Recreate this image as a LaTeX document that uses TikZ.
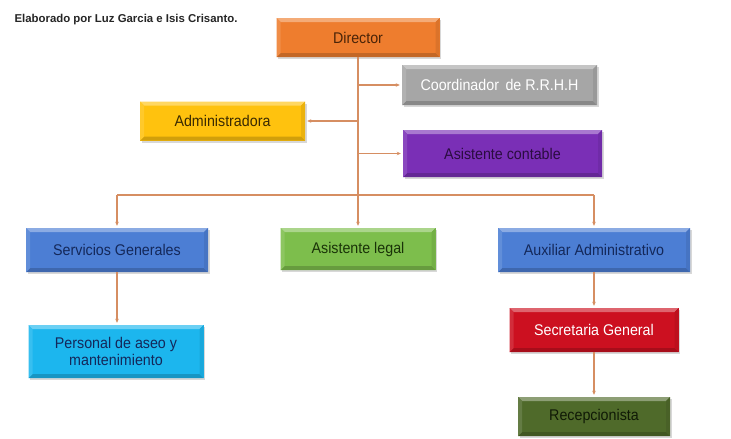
\documentclass[tikz,border=0pt]{standalone}
\usepackage{fontspec}
\setmainfont{Liberation Sans}
\newfontfamily\boxfont[FakeStretch=0.92]{Liberation Sans}
\usetikzlibrary{arrows.meta,shadows}

% face colours of the boxes
\definecolor{cDir}{HTML}{EE7D2E}
\definecolor{cCoord}{HTML}{A6A6A6}
\definecolor{cAdmin}{HTML}{FFC20E}
\definecolor{cCont}{HTML}{7A2FB6}
\definecolor{cBlue}{HTML}{4C7ED4}
\definecolor{cLegal}{HTML}{7DBE4C}
\definecolor{cPers}{HTML}{1CB6EE}
\definecolor{cSec}{HTML}{CC1020}
\definecolor{cRecep}{HTML}{4F6A2A}
% text colours
\definecolor{tDir}{HTML}{4A2408}
\definecolor{tAdmin}{HTML}{3A2A02}
\definecolor{tCont}{HTML}{2A0C40}
\definecolor{tBlue}{HTML}{14285A}
\definecolor{tLegal}{HTML}{1A3308}
\definecolor{tRecep}{HTML}{101A06}
\definecolor{line}{HTML}{D68E62}

\tikzset{
  orgbox/.style 2 args={
    rectangle, inner sep=0pt, fill=#1, text=#2, align=center,
    font=\boxfont\fontsize{15.5}{17}\selectfont,
    drop shadow={shadow xshift=1.5pt, shadow yshift=-2pt, opacity=0.3},
    path picture={
      \fill[#1!65!white]
        (path picture bounding box.north west) -- (path picture bounding box.north east)
        -- ([xshift=-4pt,yshift=-4pt]path picture bounding box.north east)
        -- ([xshift=4pt,yshift=-4pt]path picture bounding box.north west) -- cycle;
      \fill[#1!82!black]
        (path picture bounding box.south west) -- (path picture bounding box.south east)
        -- ([xshift=-4pt,yshift=4pt]path picture bounding box.south east)
        -- ([xshift=4pt,yshift=4pt]path picture bounding box.south west) -- cycle;
      \fill[#1!92!black]
        (path picture bounding box.north east) -- (path picture bounding box.south east)
        -- ([xshift=-4pt,yshift=4pt]path picture bounding box.south east)
        -- ([xshift=-4pt,yshift=-4pt]path picture bounding box.north east) -- cycle;
      \fill[#1!88!white]
        (path picture bounding box.north west) -- (path picture bounding box.south west)
        -- ([xshift=4pt,yshift=4pt]path picture bounding box.south west)
        -- ([xshift=4pt,yshift=-4pt]path picture bounding box.north west) -- cycle;
    }
  },
  conn/.style={draw=line, line width=1.3pt},
  arr/.style={conn, -{Stealth[length=4pt,width=3.5pt]}, shorten >=2pt},
}

\begin{document}
\begin{tikzpicture}[x=1pt,y=-1pt]
  \useasboundingbox[fill=white] (0,0) rectangle (731,439);

  \node[anchor=west, text=black!85, font=\fontsize{11.4}{13}\selectfont\bfseries]
    (credit) at (11,20) {Elaborado por Luz Garcia e Isis Crisanto.};

  % first level
  \node[orgbox={cDir}{tDir}, minimum width=163pt, minimum height=39pt] (dir) at (358,37.5) {Director};
  \node[orgbox={cCoord}{white}, minimum width=195pt, minimum height=40pt] (coord) at (499.5,85) {Coordinador\, de R.R.H.H};
  \node[orgbox={cAdmin}{tAdmin}, minimum width=165pt, minimum height=39pt] (admin) at (222.5,121) {Administradora};
  \node[orgbox={cCont}{tCont}, minimum width=199pt, minimum height=47pt] (cont) at (502.5,153.5) {Asistente contable};

  % second level
  \node[orgbox={cBlue}{tBlue}, minimum width=182pt, minimum height=44pt] (serv) at (117,250) {Servicios Generales};
  \node[orgbox={cLegal}{tLegal}, minimum width=155pt, minimum height=42pt] (legal) at (358,249) {Asistente legal};
  \node[orgbox={cBlue}{tBlue}, minimum width=192pt, minimum height=44pt] (aux) at (594,250) {Auxiliar Administrativo};

  % third level
  \node[orgbox={cPers}{tBlue}, minimum width=175pt, minimum height=53pt] (pers) at (116,351.5) {Personal de aseo y\\mantenimiento};
  \node[orgbox={cSec}{white}, minimum width=169pt, minimum height=44pt] (sec) at (594,330) {Secretaria General};
  \node[orgbox={cRecep}{tRecep}, minimum width=152pt, minimum height=39pt] (recep) at (594,416.5) {Recepcionista};

  % trunk and bus
  \coordinate (bus) at (358,195);
  \coordinate (busL) at (117,195);
  \coordinate (busR) at (594,195);
  \draw[conn] (dir.south) -- (bus);
  \draw[conn] (busL) -- (busR);

  % side branches
  \draw[arr] (dir.south |- coord.west) -- (coord.west);
  \draw[arr] (dir.south |- admin.east) -- (admin.east);
  \draw[arr] (dir.south |- cont.west) -- (cont.west);

  % drops
  \draw[arr] (busL) -- (serv.north);
  \draw[arr] (bus) -- (legal.north);
  \draw[arr] (busR) -- (aux.north);
  \draw[arr] (serv.south) -- (serv.south |- pers.north);
  \draw[arr] (aux.south) -- (sec.north);
  \draw[arr] (sec.south) -- (recep.north);
\end{tikzpicture}
\end{document}
